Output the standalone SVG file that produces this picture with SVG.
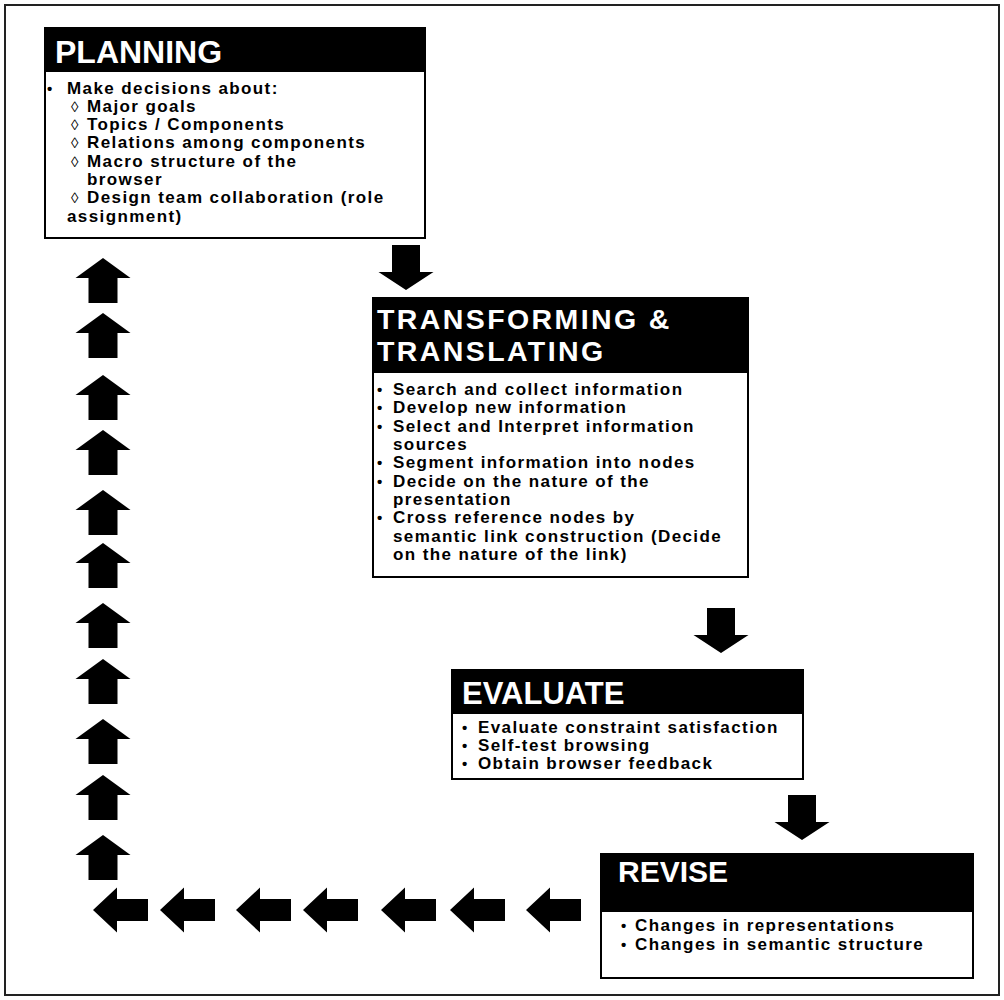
<svg xmlns="http://www.w3.org/2000/svg" xmlns:xlink="http://www.w3.org/1999/xlink" width="1004" height="1000" viewBox="0 0 1004 1000">
<style>
.box{fill:#fff;stroke:#000;stroke-width:2}
.hdr{fill:#000}
.title{font-family:"Liberation Sans",Arial,sans-serif;font-weight:bold;font-size:32px;fill:#fff}
.t2{font-size:28.5px;letter-spacing:2.4px}
.body{font-family:"Liberation Sans",Arial,sans-serif;font-weight:bold;font-size:17px;letter-spacing:1.4px;fill:#000}
.bul{font-family:"Liberation Sans",Arial,sans-serif;font-weight:bold;font-size:15px;fill:#000}
.dia{font-family:"Liberation Sans",Arial,sans-serif;font-size:15px;fill:#000}
.arr{fill:#000}
</style>
<defs>
<path id="up" d="M0,0 L27.5,20 L14.5,20 L14.5,45 L-14.5,45 L-14.5,20 L-27.5,20 Z"/>
<path id="down" d="M0,0 L-27.5,-18 L-14,-18 L-14,-45 L14,-45 L14,-18 L27.5,-18 Z"/>
<path id="left" d="M0,0 L24,-22.5 L24,-11 L55,-11 L55,11 L24,11 L24,22.5 Z"/>
</defs>
<rect x="0" y="0" width="1004" height="1000" fill="#fff"/>
<rect x="5" y="5" width="994" height="990" fill="none" stroke="#222" stroke-width="2"/>

<g id="planning">
<rect class="box" x="45" y="28" width="380" height="210"/>
<rect class="hdr" x="45" y="28" width="380" height="44"/>
<text class="title" x="55" y="63">PLANNING</text>
<text class="bul" x="47" y="94">•</text>
<text class="body" x="67" y="94">Make decisions about:</text>
<text class="dia" x="71" y="112">◊</text><text class="body" x="87" y="112">Major goals</text>
<text class="dia" x="71" y="130">◊</text><text class="body" x="87" y="130">Topics / Components</text>
<text class="dia" x="71" y="148">◊</text><text class="body" x="87" y="148">Relations among components</text>
<text class="dia" x="71" y="167">◊</text><text class="body" x="87" y="167">Macro structure of the</text>
<text class="body" x="87" y="185">browser</text>
<text class="dia" x="71" y="203">◊</text><text class="body" x="87" y="203">Design team collaboration (role</text>
<text class="body" x="67" y="222">assignment)</text>
</g>

<g id="transforming">
<rect class="box" x="373" y="298" width="375" height="279"/>
<rect class="hdr" x="373" y="298" width="375" height="75"/>
<text class="title t2" x="377" y="329">TRANSFORMING &amp;</text>
<text class="title t2" x="377" y="361">TRANSLATING</text>
<text class="bul" x="377" y="395">•</text><text class="body" x="393" y="395">Search and collect information</text>
<text class="bul" x="377" y="413">•</text><text class="body" x="393" y="413">Develop new information</text>
<text class="bul" x="377" y="432">•</text><text class="body" x="393" y="432">Select and Interpret information</text>
<text class="body" x="393" y="450">sources</text>
<text class="bul" x="377" y="468">•</text><text class="body" x="393" y="468">Segment information into nodes</text>
<text class="bul" x="377" y="487">•</text><text class="body" x="393" y="487">Decide on the nature of the</text>
<text class="body" x="393" y="505">presentation</text>
<text class="bul" x="377" y="523">•</text><text class="body" x="393" y="523">Cross reference nodes by</text>
<text class="body" x="393" y="542">semantic link construction (Decide</text>
<text class="body" x="393" y="560">on the nature of the link)</text>
</g>

<g id="evaluate">
<rect class="box" x="452" y="670" width="351" height="109"/>
<rect class="hdr" x="452" y="670" width="351" height="44"/>
<text class="title" x="462" y="704" style="font-size:31px">EVALUATE</text>
<text class="bul" x="462" y="733">•</text><text class="body" x="478" y="733">Evaluate constraint satisfaction</text>
<text class="bul" x="462" y="751">•</text><text class="body" x="478" y="751">Self-test browsing</text>
<text class="bul" x="462" y="769">•</text><text class="body" x="478" y="769">Obtain browser feedback</text>
</g>

<g id="revise">
<rect class="box" x="601" y="854" width="372" height="124"/>
<rect class="hdr" x="601" y="854" width="372" height="58"/>
<text class="title" x="618" y="882" style="font-size:30px">REVISE</text>
<text class="bul" x="621" y="931">•</text><text class="body" x="635" y="931">Changes in representations</text>
<text class="bul" x="621" y="950">•</text><text class="body" x="635" y="950">Changes in semantic structure</text>
</g>

<g id="connectors" class="arr">
<use xlink:href="#down" x="406" y="290"/>
<use xlink:href="#down" x="721" y="653"/>
<use xlink:href="#down" x="802" y="840"/>
<use xlink:href="#up" x="103" y="258"/>
<use xlink:href="#up" x="103" y="313"/>
<use xlink:href="#up" x="103" y="375"/>
<use xlink:href="#up" x="103" y="430"/>
<use xlink:href="#up" x="103" y="490"/>
<use xlink:href="#up" x="103" y="543"/>
<use xlink:href="#up" x="103" y="603"/>
<use xlink:href="#up" x="103" y="659"/>
<use xlink:href="#up" x="103" y="719"/>
<use xlink:href="#up" x="103" y="775"/>
<use xlink:href="#up" x="103" y="835"/>
<use xlink:href="#left" x="93" y="910"/>
<use xlink:href="#left" x="160" y="910"/>
<use xlink:href="#left" x="236" y="910"/>
<use xlink:href="#left" x="303" y="910"/>
<use xlink:href="#left" x="381" y="910"/>
<use xlink:href="#left" x="450" y="910"/>
<use xlink:href="#left" x="526" y="910"/>
</g>
</svg>
